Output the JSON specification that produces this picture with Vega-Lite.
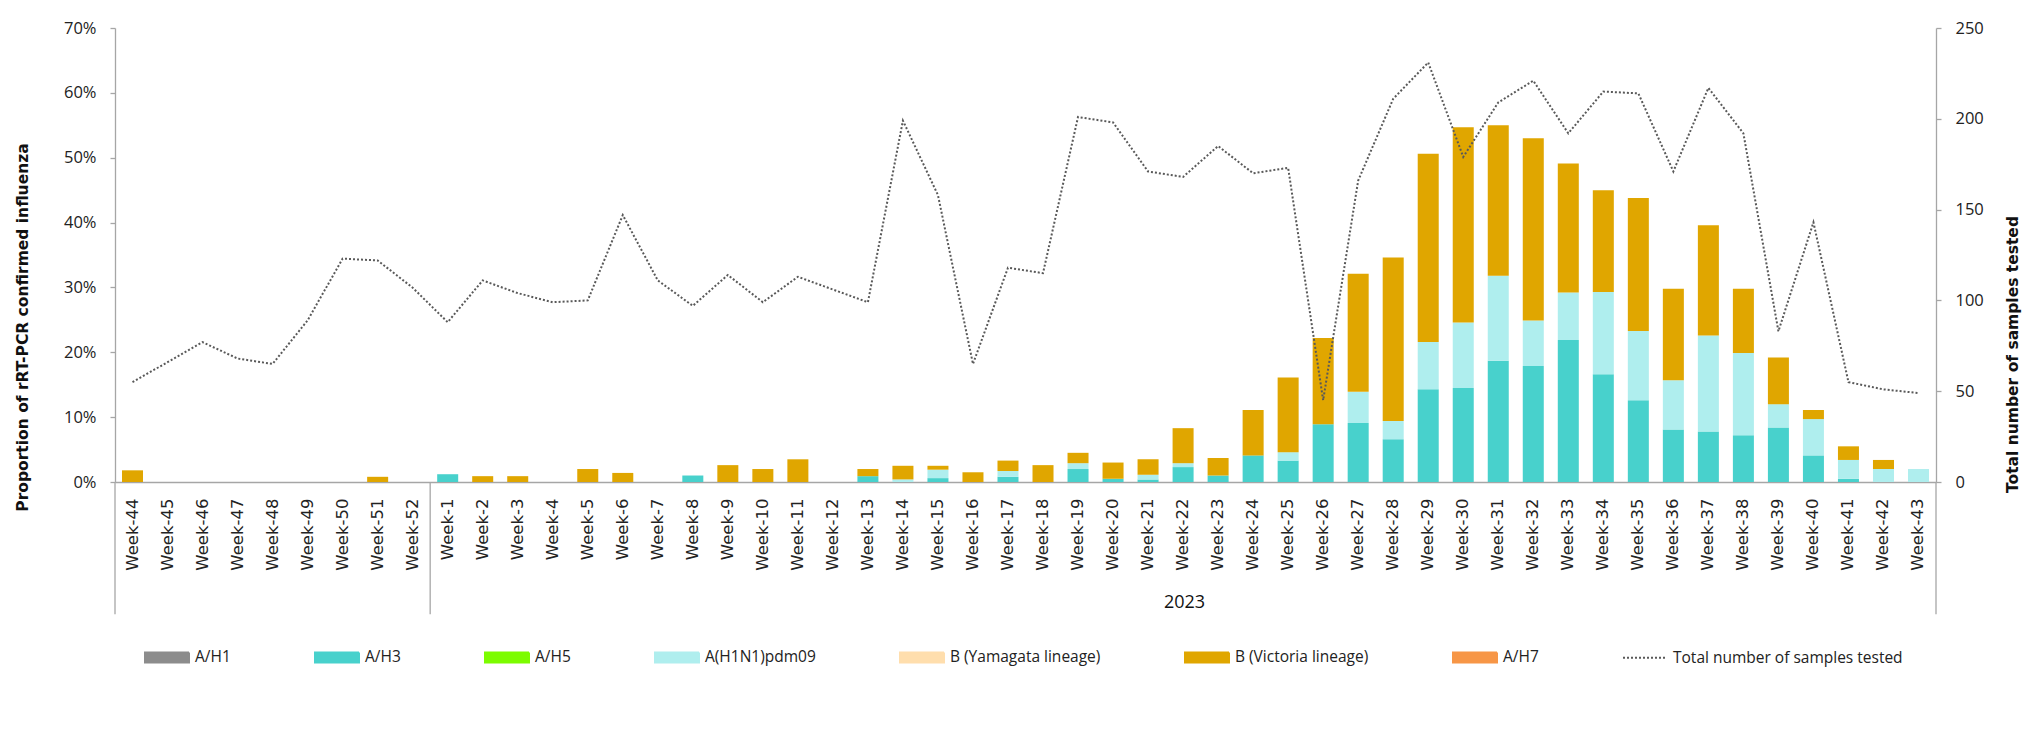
{
  "$schema": "https://vega.github.io/schema/vega-lite/v6.json",
  "width": 1821,
  "height": 454,
  "autosize": {"type": "none"},
  "padding": {"left": 115, "top": 28, "right": 106, "bottom": 247},
  "background": "white",
  "config": {
    "font": "Open Sans",
    "view": {"stroke": null},
    "axis": {"labelColor": "#222222", "titleColor": "#111111", "domainColor": "#a6a6a6", "tickColor": "#a6a6a6", "domainWidth": 1.3, "tickWidth": 1.3, "grid": false}
  },
  "datasets": {
    "bars": [
      {"week": "Week-44", "type": "B (Victoria lineage)", "pct": 1.8},
      {"week": "Week-51", "type": "B (Victoria lineage)", "pct": 0.8},
      {"week": "Week-1", "type": "A/H3", "pct": 1.2},
      {"week": "Week-2", "type": "B (Victoria lineage)", "pct": 0.9},
      {"week": "Week-3", "type": "B (Victoria lineage)", "pct": 0.9},
      {"week": "Week-5", "type": "B (Victoria lineage)", "pct": 2.0},
      {"week": "Week-6", "type": "B (Victoria lineage)", "pct": 1.4},
      {"week": "Week-8", "type": "A/H3", "pct": 1.0},
      {"week": "Week-9", "type": "B (Victoria lineage)", "pct": 2.6},
      {"week": "Week-10", "type": "B (Victoria lineage)", "pct": 2.0},
      {"week": "Week-11", "type": "B (Victoria lineage)", "pct": 3.5},
      {"week": "Week-13", "type": "A/H3", "pct": 0.9},
      {"week": "Week-13", "type": "B (Victoria lineage)", "pct": 1.1},
      {"week": "Week-14", "type": "A(H1N1)pdm09", "pct": 0.4},
      {"week": "Week-14", "type": "B (Victoria lineage)", "pct": 2.1},
      {"week": "Week-15", "type": "A/H3", "pct": 0.6},
      {"week": "Week-15", "type": "A(H1N1)pdm09", "pct": 1.3},
      {"week": "Week-15", "type": "B (Victoria lineage)", "pct": 0.6},
      {"week": "Week-16", "type": "B (Victoria lineage)", "pct": 1.5},
      {"week": "Week-17", "type": "A/H3", "pct": 0.8},
      {"week": "Week-17", "type": "A(H1N1)pdm09", "pct": 0.9},
      {"week": "Week-17", "type": "B (Victoria lineage)", "pct": 1.6},
      {"week": "Week-18", "type": "B (Victoria lineage)", "pct": 2.6},
      {"week": "Week-19", "type": "A/H3", "pct": 2.0},
      {"week": "Week-19", "type": "A(H1N1)pdm09", "pct": 0.9},
      {"week": "Week-19", "type": "B (Victoria lineage)", "pct": 1.6},
      {"week": "Week-20", "type": "A/H3", "pct": 0.5},
      {"week": "Week-20", "type": "B (Victoria lineage)", "pct": 2.5},
      {"week": "Week-21", "type": "A/H3", "pct": 0.4},
      {"week": "Week-21", "type": "A(H1N1)pdm09", "pct": 0.7},
      {"week": "Week-21", "type": "B (Victoria lineage)", "pct": 2.4},
      {"week": "Week-22", "type": "A/H3", "pct": 2.3},
      {"week": "Week-22", "type": "A(H1N1)pdm09", "pct": 0.6},
      {"week": "Week-22", "type": "B (Victoria lineage)", "pct": 5.4},
      {"week": "Week-23", "type": "A/H3", "pct": 1.0},
      {"week": "Week-23", "type": "B (Victoria lineage)", "pct": 2.7},
      {"week": "Week-24", "type": "A/H3", "pct": 4.1},
      {"week": "Week-24", "type": "B (Victoria lineage)", "pct": 7.0},
      {"week": "Week-25", "type": "A/H3", "pct": 3.3},
      {"week": "Week-25", "type": "A(H1N1)pdm09", "pct": 1.3},
      {"week": "Week-25", "type": "B (Victoria lineage)", "pct": 11.5},
      {"week": "Week-26", "type": "A/H3", "pct": 8.9},
      {"week": "Week-26", "type": "B (Victoria lineage)", "pct": 13.3},
      {"week": "Week-27", "type": "A/H3", "pct": 9.1},
      {"week": "Week-27", "type": "A(H1N1)pdm09", "pct": 4.8},
      {"week": "Week-27", "type": "B (Victoria lineage)", "pct": 18.2},
      {"week": "Week-28", "type": "A/H3", "pct": 6.6},
      {"week": "Week-28", "type": "A(H1N1)pdm09", "pct": 2.8},
      {"week": "Week-28", "type": "B (Victoria lineage)", "pct": 25.2},
      {"week": "Week-29", "type": "A/H3", "pct": 14.3},
      {"week": "Week-29", "type": "A(H1N1)pdm09", "pct": 7.3},
      {"week": "Week-29", "type": "B (Victoria lineage)", "pct": 29.0},
      {"week": "Week-30", "type": "A/H3", "pct": 14.5},
      {"week": "Week-30", "type": "A(H1N1)pdm09", "pct": 10.1},
      {"week": "Week-30", "type": "B (Victoria lineage)", "pct": 30.1},
      {"week": "Week-31", "type": "A/H3", "pct": 18.7},
      {"week": "Week-31", "type": "A(H1N1)pdm09", "pct": 13.1},
      {"week": "Week-31", "type": "B (Victoria lineage)", "pct": 23.2},
      {"week": "Week-32", "type": "A/H3", "pct": 17.9},
      {"week": "Week-32", "type": "A(H1N1)pdm09", "pct": 7.0},
      {"week": "Week-32", "type": "B (Victoria lineage)", "pct": 28.1},
      {"week": "Week-33", "type": "A/H3", "pct": 21.9},
      {"week": "Week-33", "type": "A(H1N1)pdm09", "pct": 7.3},
      {"week": "Week-33", "type": "B (Victoria lineage)", "pct": 19.9},
      {"week": "Week-34", "type": "A/H3", "pct": 16.6},
      {"week": "Week-34", "type": "A(H1N1)pdm09", "pct": 12.7},
      {"week": "Week-34", "type": "B (Victoria lineage)", "pct": 15.7},
      {"week": "Week-35", "type": "A/H3", "pct": 12.6},
      {"week": "Week-35", "type": "A(H1N1)pdm09", "pct": 10.7},
      {"week": "Week-35", "type": "B (Victoria lineage)", "pct": 20.5},
      {"week": "Week-36", "type": "A/H3", "pct": 8.1},
      {"week": "Week-36", "type": "A(H1N1)pdm09", "pct": 7.6},
      {"week": "Week-36", "type": "B (Victoria lineage)", "pct": 14.1},
      {"week": "Week-37", "type": "A/H3", "pct": 7.8},
      {"week": "Week-37", "type": "A(H1N1)pdm09", "pct": 14.8},
      {"week": "Week-37", "type": "B (Victoria lineage)", "pct": 17.0},
      {"week": "Week-38", "type": "A/H3", "pct": 7.2},
      {"week": "Week-38", "type": "A(H1N1)pdm09", "pct": 12.7},
      {"week": "Week-38", "type": "B (Victoria lineage)", "pct": 9.9},
      {"week": "Week-39", "type": "A/H3", "pct": 8.4},
      {"week": "Week-39", "type": "A(H1N1)pdm09", "pct": 3.6},
      {"week": "Week-39", "type": "B (Victoria lineage)", "pct": 7.2},
      {"week": "Week-40", "type": "A/H3", "pct": 4.1},
      {"week": "Week-40", "type": "A(H1N1)pdm09", "pct": 5.6},
      {"week": "Week-40", "type": "B (Victoria lineage)", "pct": 1.4},
      {"week": "Week-41", "type": "A/H3", "pct": 0.5},
      {"week": "Week-41", "type": "A(H1N1)pdm09", "pct": 2.9},
      {"week": "Week-41", "type": "B (Victoria lineage)", "pct": 2.1},
      {"week": "Week-42", "type": "A(H1N1)pdm09", "pct": 2.0},
      {"week": "Week-42", "type": "B (Victoria lineage)", "pct": 1.4},
      {"week": "Week-43", "type": "A(H1N1)pdm09", "pct": 2.0}
    ],
    "types": [
      {"type": "A/H1", "rank": 1},
      {"type": "A/H3", "rank": 2},
      {"type": "A/H5", "rank": 3},
      {"type": "A(H1N1)pdm09", "rank": 4},
      {"type": "B (Yamagata lineage)", "rank": 5},
      {"type": "B (Victoria lineage)", "rank": 6},
      {"type": "A/H7", "rank": 7}
    ],
    "tests": [
      {"week": "Week-44", "total": 55}, {"week": "Week-45", "total": 66}, {"week": "Week-46", "total": 77},
      {"week": "Week-47", "total": 68}, {"week": "Week-48", "total": 65}, {"week": "Week-49", "total": 89},
      {"week": "Week-50", "total": 123}, {"week": "Week-51", "total": 122}, {"week": "Week-52", "total": 107},
      {"week": "Week-1", "total": 88}, {"week": "Week-2", "total": 111}, {"week": "Week-3", "total": 104},
      {"week": "Week-4", "total": 99}, {"week": "Week-5", "total": 100}, {"week": "Week-6", "total": 147},
      {"week": "Week-7", "total": 111}, {"week": "Week-8", "total": 97}, {"week": "Week-9", "total": 114},
      {"week": "Week-10", "total": 99}, {"week": "Week-11", "total": 113}, {"week": "Week-12", "total": 106},
      {"week": "Week-13", "total": 99}, {"week": "Week-14", "total": 199}, {"week": "Week-15", "total": 158},
      {"week": "Week-16", "total": 65}, {"week": "Week-17", "total": 118}, {"week": "Week-18", "total": 115},
      {"week": "Week-19", "total": 201}, {"week": "Week-20", "total": 198}, {"week": "Week-21", "total": 171},
      {"week": "Week-22", "total": 168}, {"week": "Week-23", "total": 185}, {"week": "Week-24", "total": 170},
      {"week": "Week-25", "total": 173}, {"week": "Week-26", "total": 45}, {"week": "Week-27", "total": 166},
      {"week": "Week-28", "total": 211}, {"week": "Week-29", "total": 231}, {"week": "Week-30", "total": 179},
      {"week": "Week-31", "total": 209}, {"week": "Week-32", "total": 221}, {"week": "Week-33", "total": 192},
      {"week": "Week-34", "total": 215}, {"week": "Week-35", "total": 214}, {"week": "Week-36", "total": 171},
      {"week": "Week-37", "total": 217}, {"week": "Week-38", "total": 192}, {"week": "Week-39", "total": 83},
      {"week": "Week-40", "total": 143}, {"week": "Week-41", "total": 55}, {"week": "Week-42", "total": 51},
      {"week": "Week-43", "total": 49}
    ],
    "sepLeft": [{"week": "Week-44"}, {"week": "Week-1"}],
    "sepRight": [{"week": "Week-43"}]
  },
  "encoding": {
    "x": {
      "field": "week",
      "type": "nominal",
      "scale": {
        "domain": ["Week-44","Week-45","Week-46","Week-47","Week-48","Week-49","Week-50","Week-51","Week-52","Week-1","Week-2","Week-3","Week-4","Week-5","Week-6","Week-7","Week-8","Week-9","Week-10","Week-11","Week-12","Week-13","Week-14","Week-15","Week-16","Week-17","Week-18","Week-19","Week-20","Week-21","Week-22","Week-23","Week-24","Week-25","Week-26","Week-27","Week-28","Week-29","Week-30","Week-31","Week-32","Week-33","Week-34","Week-35","Week-36","Week-37","Week-38","Week-39","Week-40","Week-41","Week-42","Week-43"],
        "paddingInner": 0.4,
        "paddingOuter": 0.2
      },
      "axis": {
        "title": "2023",
        "titleX": 1069,
        "titleY": 120,
        "titleAlign": "center",
        "titleBaseline": "middle",
        "titleFont": "Open Sans",
        "titleFontSize": 18,
        "titleFontWeight": "normal",
        "labelAngle": -90,
        "labelFont": "DejaVu Sans",
        "labelFontSize": 16.5,
        "labelPadding": 16,
        "ticks": false,
        "tickSize": 0,
        "labelOverlap": false,
        "labelBound": false,
        "labelFlush": false
      }
    }
  },
  "layer": [
    {
      "layer": [
        {
          "data": {"name": "bars"},
          "transform": [
            {"lookup": "type", "from": {"data": {"name": "types"}, "key": "type", "fields": ["rank"]}}
          ],
          "mark": {"type": "bar"},
          "encoding": {
            "y": {
              "field": "pct",
              "type": "quantitative",
              "stack": "zero",
              "scale": {"domain": [0, 70], "nice": false},
              "axis": {
                "orient": "left",
                "values": [0, 10, 20, 30, 40, 50, 60, 70],
                "labelExpr": "datum.value + '%'",
                "labelFont": "Open Sans",
                "labelFontSize": 16.5,
                "labelPadding": 14,
                "tickSize": 5,
                "title": "Proportion of rRT-PCR confirmed influenza",
                "titleFont": "DejaVu Sans",
                "titleFontSize": 15.5,
                "titleFontWeight": "bold",
                "titleAngle": -90,
                "titleX": -93,
                "titleY": 299,
                "titleAlign": "center",
                "titleBaseline": "middle"
              }
            },
            "order": {"field": "rank", "type": "quantitative", "sort": "ascending"},
            "color": {
              "field": "type",
              "type": "nominal",
              "scale": {
                "domain": ["A/H1", "A/H3", "A/H5", "A(H1N1)pdm09", "B (Yamagata lineage)", "B (Victoria lineage)", "A/H7", "Total number of samples tested"],
                "range": ["#8c8c8c", "#48d1cc", "#7cfc00", "#afeeee", "#ffdead", "#e0a600", "#f79646", "#595959"]
              },
              "legend": {
                "title": null,
                "orient": "none",
                "legendX": 29,
                "legendY": 606,
                "direction": "horizontal",
                "columns": 8,
                "columnPadding": 80,
                "padding": 0,
                "symbolType": "M-1,-0.23H1V0.23H-1Z",
                "symbolSize": 1936,
                "labelFont": "Open Sans",
                "labelFontSize": 15.5,
                "labelColor": "#222222",
                "labelOffset": 5,
                "labelLimit": 400,
                "encode": {
                  "symbols": {
                    "update": {
                      "shape": {"signal": "datum.value === 'Total number of samples tested' ? 'M-1,0H1' : 'M-1,-0.23H1V0.23H-1Z'"},
                      "fill": {"signal": "datum.value === 'Total number of samples tested' ? 'transparent' : scale('color', datum.value)"},
                      "stroke": {"signal": "datum.value === 'Total number of samples tested' ? '#595959' : 'transparent'"},
                      "strokeDash": {"signal": "datum.value === 'Total number of samples tested' ? [2, 2] : [1, 0]"},
                      "strokeWidth": {"value": 2}
                    }
                  }
                }
              }
            }
          }
        },
        {
          "data": {"name": "sepLeft"},
          "mark": {"type": "rule", "color": "#a6a6a6", "strokeWidth": 1.3},
          "encoding": {
            "x": {"field": "week", "type": "nominal", "bandPosition": -0.3333},
            "y": {"datum": 0, "type": "quantitative", "scale": {"domain": [0, 70], "nice": false}},
            "y2": {"datum": -20.4}
          }
        },
        {
          "data": {"name": "sepRight"},
          "mark": {"type": "rule", "color": "#a6a6a6", "strokeWidth": 1.3},
          "encoding": {
            "x": {"field": "week", "type": "nominal", "bandPosition": 1.3333},
            "y": {"datum": 0, "type": "quantitative", "scale": {"domain": [0, 70], "nice": false}},
            "y2": {"datum": -20.4}
          }
        }
      ]
    },
    {
      "data": {"name": "tests"},
      "mark": {"type": "line", "strokeWidth": 2, "strokeDash": [2, 2], "interpolate": "linear"},
      "encoding": {
        "y": {
          "field": "total",
          "type": "quantitative",
          "scale": {"domain": [0, 250], "nice": false},
          "axis": {
            "orient": "right",
            "values": [0, 50, 100, 150, 200, 250],
            "labelFont": "Open Sans",
            "labelFontSize": 16.5,
            "labelPadding": 14,
            "tickSize": 5,
            "title": "Total number of samples tested",
            "titleFont": "DejaVu Sans",
            "titleFontSize": 15.5,
            "titleFontWeight": "bold",
            "titleAngle": 270,
            "titleX": 76,
            "titleY": 326,
            "titleAlign": "center",
            "titleBaseline": "middle"
          }
        },
        "color": {"datum": "Total number of samples tested", "type": "nominal"}
      }
    }
  ],
  "resolve": {"scale": {"y": "independent"}, "axis": {"y": "independent"}}
}
